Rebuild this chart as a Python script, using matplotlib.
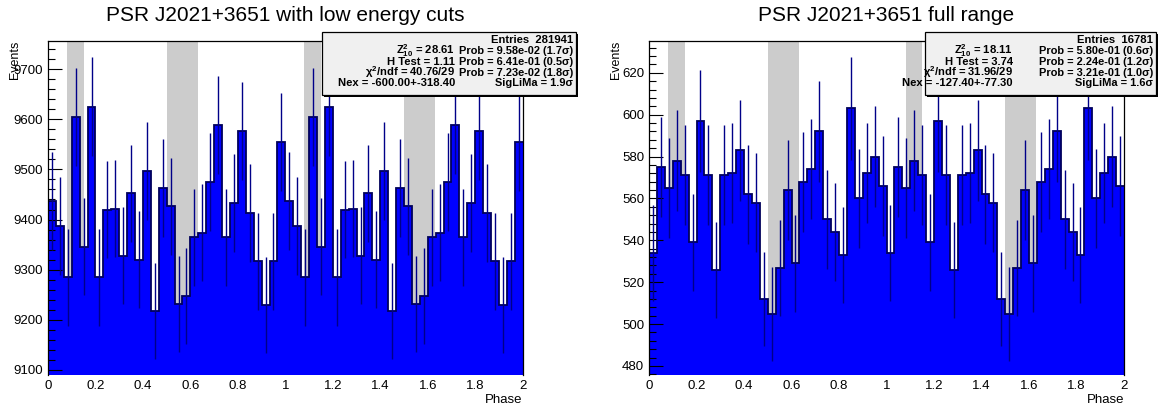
import numpy as np
import matplotlib
matplotlib.use("Agg")
import matplotlib.pyplot as plt
from matplotlib.patches import Rectangle
from matplotlib.ticker import MultipleLocator, FormatStrFormatter

plt.rcParams['font.family'] = ['Liberation Sans', 'DejaVu Sans']
plt.rcParams['mathtext.fontset'] = 'custom'
plt.rcParams['mathtext.rm'] = 'Liberation Sans:bold'
plt.rcParams['mathtext.it'] = 'Liberation Sans:bold:italic'
plt.rcParams['mathtext.bf'] = 'Liberation Sans:bold'

# Phasogram counts, 30 bins per rotation (plotted twice)
counts_low = [9437, 9387, 9285, 9605, 9346, 9625, 9285, 9420, 9422, 9328,
              9452, 9320, 9497, 9217, 9463, 9426, 9232, 9247, 9365, 9374,
              9475, 9588, 9365, 9433, 9576, 9413, 9317, 9229, 9317, 9554]
counts_full = [534, 575, 565, 578, 571, 539, 597, 571, 526, 571,
               572, 583, 562, 558, 512, 505, 527, 564, 529, 568,
               574, 592, 550, 544, 533, 603, 560, 572, 580, 566]

# on-pulse phase windows (grey bands)
on_pulse = [(0.08, 0.15), (0.50, 0.63)]

titles = ["PSR J2021+3651 with low energy cuts", "PSR J2021+3651 full range"]
stats_low = [("Entries  281941", None),
             (r"$\mathrm{Z}^{2}_{10}$ = 28.61", "Prob = 9.58e-02 (1.7σ)"),
             ("H Test = 1.11", "Prob = 6.41e-01 (0.5σ)"),
             (r"$\mathrm{\chi}^{2}$/ndf = 40.76/29", "Prob = 7.23e-02 (1.8σ)"),
             ("Nex = -600.00+-318.40", "SigLiMa = 1.9σ")]
stats_full = [("Entries  16781", None),
              (r"$\mathrm{Z}^{2}_{10}$ = 18.11", "Prob = 5.80e-01 (0.6σ)"),
              ("H Test = 3.74", "Prob = 2.24e-01 (1.2σ)"),
              (r"$\mathrm{\chi}^{2}$/ndf = 31.96/29", "Prob = 3.21e-01 (1.0σ)"),
              ("Nex = -127.40+-77.30", "SigLiMa = 1.6σ")]

W, H = 1161, 408
fig = plt.figure(figsize=(W / 100, H / 100), dpi=100)


def fx(x):
    return x / W


def fy(y):
    return 1 - y / H


panels = [
    dict(counts=counts_low, title=titles[0], stats=stats_low, x0=48, x1=522.7,
         ylim=(9090, 9756), major=100, minor=20, box=(322, 576), col=455),
    dict(counts=counts_full, title=titles[1], stats=stats_full, x0=649, x1=1124,
         ylim=(475.7, 635.2), major=20, minor=4, box=(925, 1156), col=1013),
]

top, bottom = 41, 375
edges = np.linspace(0, 2, 61)
centers = 0.5 * (edges[1:] + edges[:-1])

for p in panels:
    ax = fig.add_axes([fx(p['x0']), fy(bottom), (p['x1'] - p['x0']) / W, (bottom - top) / H])
    vals = np.tile(np.array(p['counts'], dtype=float), 2)

    for rot in (0, 1):
        for lo, hi in on_pulse:
            ax.axvspan(lo + rot, hi + rot, color='#cccccc', lw=0, zorder=0)

    ax.stairs(vals, edges, fill=True, color='#0000ff', baseline=p['ylim'][0] - 50, zorder=1)
    ax.stairs(vals, edges, color='#00005a', lw=1.3, baseline=None, zorder=2)
    ax.errorbar(centers, vals, yerr=np.sqrt(vals), fmt='none', ecolor='#000088',
                elinewidth=1.0, capsize=0, zorder=3)

    ax.set_xlim(0, 2)
    ax.set_ylim(*p['ylim'])
    ax.xaxis.set_major_locator(MultipleLocator(0.2))
    ax.xaxis.set_major_formatter(FormatStrFormatter('%g'))
    ax.yaxis.set_major_locator(MultipleLocator(p['major']))
    ax.yaxis.set_minor_locator(MultipleLocator(p['minor']))
    ax.yaxis.set_major_formatter(FormatStrFormatter('%g'))
    ax.tick_params(axis='x', length=0, pad=3.6, labelsize=9.5)
    ax.tick_params(axis='y', which='major', direction='in', length=10, width=0.8,
                   pad=3.4, labelsize=9.5)
    ax.tick_params(axis='y', which='minor', direction='in', length=5, width=0.8)
    ax.spines['bottom'].set_visible(False)
    for s in ('left', 'right', 'top'):
        ax.spines[s].set_linewidth(0.9)
        ax.spines[s].set_zorder(5)

    xc = (p['x0'] + p['x1']) / 2
    fig.text(fx(xc), fy(20.7), p['title'], ha='center', va='baseline', fontsize=15)
    fig.text(fx(p['x0'] - 33), fy(41), "Events", rotation=90, ha='center', va='top',
             fontsize=9)
    fig.text(fx(p['x1']), fy(400), "Phase", ha='right', va='center', fontsize=9.5)

    # stats box
    bx0, bx1 = p['box']
    by0, by1 = 32, 95
    fig.add_artist(Rectangle((fx(bx0 + 2), fy(by1 + 2)), (bx1 - bx0) / W, (by1 - by0) / H,
                             transform=fig.transFigure, facecolor='black', edgecolor='none',
                             zorder=10))
    fig.add_artist(Rectangle((fx(bx0), fy(by1)), (bx1 - bx0) / W, (by1 - by0) / H,
                             transform=fig.transFigure, facecolor='#f0f0f0',
                             edgecolor='black', lw=0.9, zorder=11))
    baselines = [43, 54, 64.8, 75.5, 86.2]
    for (left, right), yb in zip(p['stats'], baselines):
        if right is None:
            fig.text(fx(bx1 - 3), fy(yb), left, ha='right', va='baseline', fontsize=8.1,
                     fontweight='bold', zorder=12)
        else:
            fig.text(fx(p['col']), fy(yb), left, ha='right', va='baseline', fontsize=8.1,
                     fontweight='bold', zorder=12)
            fig.text(fx(bx1 - 3), fy(yb), right, ha='right', va='baseline', fontsize=7.9,
                     fontweight='bold', zorder=12)

fig.savefig("out.png", dpi=100)
